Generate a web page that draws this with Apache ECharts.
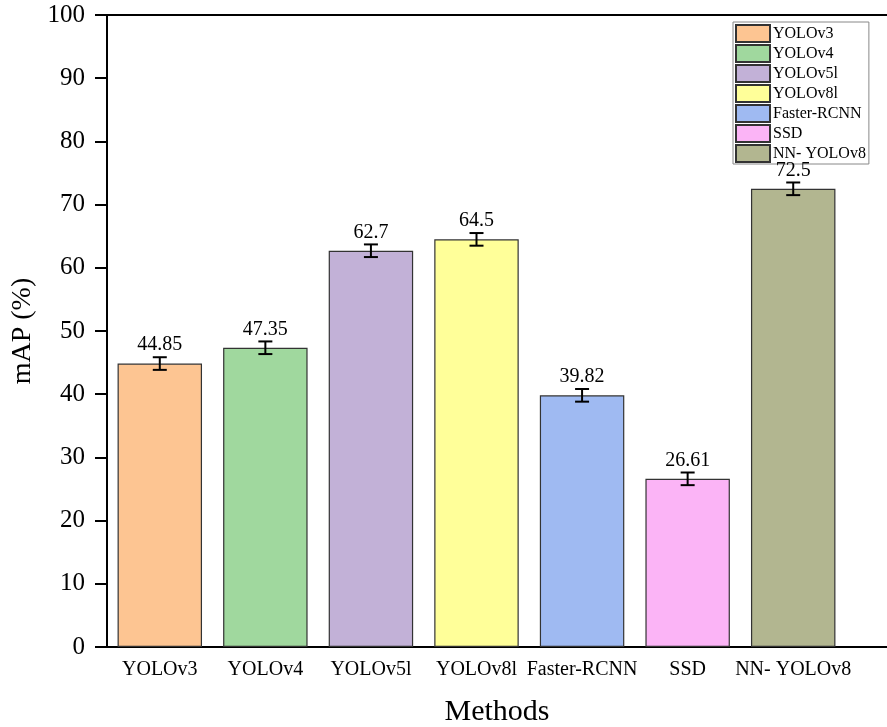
<!DOCTYPE html>
<html>
<head>
<meta charset="utf-8">
<script src="https://cdn.jsdelivr.net/npm/echarts@6/dist/echarts.min.js"></script>
<style>
  html, body { margin: 0; padding: 0; background: #fff; }
  #chart { width: 887px; height: 727px; }
</style>
</head>
<body>
<div id="chart"></div>
<script>
// data
const methods = ['YOLOv3', 'YOLOv4', 'YOLOv5l', 'YOLOv8l', 'Faster-RCNN', 'SSD', 'NN- YOLOv8']
const axisLabels = ['YOLOv3', 'YOLOv4', 'YOLOv5l', 'YOLOv8l', 'Faster-RCNN', 'SSD', 'NN- YOLOv8']
const mapValues = [44.85, 47.35, 62.7, 64.5, 39.82, 26.61, 72.5]
const mapErrors = [1, 1, 1, 1, 1, 1, 1]
const barColors = ['#fdc592', '#a0d89e', '#c2b1d7', '#ffff99', '#9fbaf2', '#fbb4f6', '#b2b690']

const font = "'Liberation Serif', 'Times New Roman', serif"

const chart = echarts.init(document.getElementById('chart'))

// one series per method so the legend lists each, stacked so they sit centred
const barSeries = methods.map((name, i) => ({
    name,
    type: 'bar',
    xAxisIndex: 2,
    yAxisIndex: 1,
    stack: 'all',
    barWidth: '80%',
    data: methods.map((m, j) => j === i ? mapValues[j] : '-'),
    itemStyle: {
        color: barColors[i],
        borderColor: '#333',
        borderWidth: 1.2
    }
}))

const errorSeries = {
    type: 'custom',
    xAxisIndex: 2,
    yAxisIndex: 1,
    z: 10,
    encode: { x: 0, y: 1 },
    data: mapValues.map((v, i) => [i, v, mapErrors[i]]),
    renderItem: function (params, api) {
        const x = api.value(0)
        const v = api.value(1)
        const e = api.value(2)
        const hi = api.coord([x, v + e])
        const lo = api.coord([x, v - e])
        const half = 7
        const style = { stroke: '#000', lineWidth: 2 }
        return {
            type: 'group',
            children: [
                { type: 'line', shape: { x1: hi[0], y1: hi[1], x2: lo[0], y2: lo[1] }, style },
                { type: 'line', shape: { x1: hi[0] - half, y1: hi[1], x2: hi[0] + half, y2: hi[1] }, style },
                { type: 'line', shape: { x1: lo[0] - half, y1: lo[1], x2: lo[0] + half, y2: lo[1] }, style },
                {
                    type: 'text',
                    x: hi[0],
                    y: hi[1] - 2,
                    style: {
                        text: String(v),
                        fill: '#000',
                        font: '20px ' + font,
                        align: 'center',
                        verticalAlign: 'bottom'
                    }
                }
            ]
        }
    }
}

const lineStyle = { color: '#000', width: 2 }

chart.setOption({
    animation: false,
    textStyle: { fontFamily: font, color: '#000' },
    grid: [
        { left: 107, right: 0, top: 15, bottom: 80, outerBoundsMode: 'none' },
        { left: 107, right: 41, top: 15, bottom: 80, outerBoundsMode: 'none' }
    ],
    legend: {
        data: methods,
        orient: 'vertical',
        left: 733,
        top: 22,
        itemWidth: 34,
        itemHeight: 17,
        itemGap: 1,
        padding: [2, 3, 1, 2],
        borderColor: '#888',
        borderWidth: 1,
        icon: 'rect',
        textStyle: { fontFamily: font, fontSize: 16, lineHeight: 17, color: '#000', padding: [0, 0, 0, -2] }
    },
    xAxis: [
        {
            gridIndex: 0, type: 'value', min: 0, max: 1, position: 'bottom',
            axisLine: { show: true, lineStyle }, axisTick: { show: false },
            axisLabel: { show: false }, splitLine: { show: false },
            name: 'Methods', nameLocation: 'middle', nameGap: 50,
            nameTextStyle: { fontFamily: font, fontSize: 30, color: '#000' }
        },
        {
            gridIndex: 0, type: 'value', min: 0, max: 1, position: 'top',
            axisLine: { show: true, lineStyle }, axisTick: { show: false },
            axisLabel: { show: false }, splitLine: { show: false }
        },
        {
            gridIndex: 1, type: 'category', data: axisLabels,
            axisLine: { show: false },
            axisTick: { show: true, inside: true, alignWithLabel: true, length: 12, lineStyle },
            axisLabel: { fontFamily: font, fontSize: 20, color: '#000', margin: 13, interval: 0 },
            splitLine: { show: false }
        }
    ],
    yAxis: [
        {
            gridIndex: 0, type: 'value', min: 0, max: 100, interval: 10,
            axisLine: { show: true, lineStyle },
            axisTick: { show: true, inside: false, length: 12, lineStyle },
            axisLabel: { fontFamily: font, fontSize: 25, color: '#000', margin: 22 },
            splitLine: { show: false },
            name: 'mAP (%)', nameLocation: 'middle', nameGap: 62,
            nameTextStyle: { fontFamily: font, fontSize: 28, color: '#000' }
        },
        {
            gridIndex: 1, type: 'value', min: 0, max: 100, show: false,
            splitLine: { show: false }
        }
    ],
    series: [...barSeries, errorSeries]
})
</script>
</body>
</html>
